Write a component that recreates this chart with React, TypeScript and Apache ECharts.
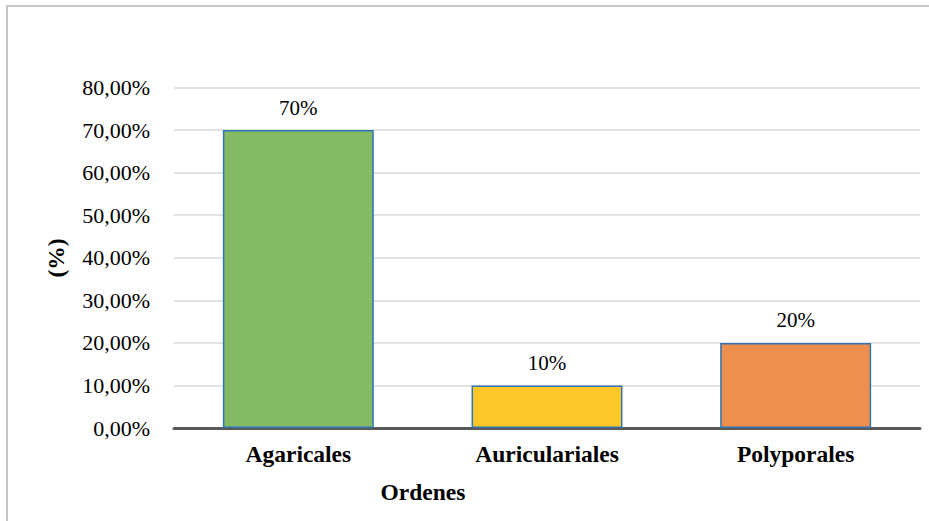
import React, { useEffect, useRef } from "react";
import * as echarts from "echarts";

// Orders of fungi and their share (%)
const categories = ["Agaricales", "Auriculariales", "Polyporales"];
const shares = [70, 10, 20];
const barColors = ["#85BA64", "#FFC829", "#EE8E4F"];
const yTicks = { min: 0, max: 80, interval: 10 };

const SERIF = '"Liberation Serif", "Times New Roman", serif';

export default function App() {
  const ref = useRef<HTMLDivElement>(null);

  useEffect(() => {
    if (!ref.current) return;
    const chart = echarts.init(ref.current, undefined, { renderer: "svg" });
    chart.setOption({
      animation: false,
      backgroundColor: "#FFFFFF",
      textStyle: { fontFamily: SERIF },
      grid: { left: 174, right: 9, top: 87.5, bottom: 93, containLabel: false },
      xAxis: {
        type: "category",
        data: categories,
        axisLine: { show: true, lineStyle: { color: "#595959", width: 3 } },
        axisTick: { show: false },
        axisLabel: {
          color: "#000000",
          fontFamily: SERIF,
          fontSize: 23.5,
          fontWeight: "bold",
          margin: 14,
        },
      },
      yAxis: {
        type: "value",
        min: yTicks.min,
        max: yTicks.max,
        interval: yTicks.interval,
        axisLine: { show: false },
        axisTick: { show: false },
        splitLine: { show: true, lineStyle: { color: "#D9D9D9", width: 1.5 } },
        axisLabel: {
          color: "#000000",
          fontFamily: SERIF,
          fontSize: 22,
          margin: 24,
          formatter: (v: number) => v.toFixed(2).replace(".", ",") + "%",
        },
      },
      series: [
        {
          type: "bar",
          barWidth: "60.7%",
          data: shares.map((v, i) => ({
            value: v,
            itemStyle: { color: barColors[i] },
          })),
          itemStyle: { borderColor: "#2F75B5", borderWidth: 1.5 },
          label: {
            show: true,
            position: "top",
            distance: 12,
            color: "#000000",
            fontFamily: SERIF,
            fontSize: 21,
            formatter: (p: any) => p.value + "%",
          },
        },
      ],
      graphic: [
        {
          type: "polyline",
          shape: { points: [[7, 530], [7, 6], [940, 6]] },
          style: { stroke: "#C6C6C6", lineWidth: 2, fill: null },
          silent: true,
        },
        {
          type: "text",
          x: 56,
          y: 258,
          rotation: Math.PI / 2,
          style: {
            text: "(%)",
            fontFamily: SERIF,
            fontSize: 23.5,
            fontWeight: "bold",
            fill: "#000000",
            align: "center",
            verticalAlign: "middle",
          },
        },
        {
          type: "text",
          x: 423,
          y: 492,
          style: {
            text: "Ordenes",
            fontFamily: SERIF,
            fontSize: 23.5,
            fontWeight: "bold",
            fill: "#000000",
            align: "center",
            verticalAlign: "middle",
          },
        },
      ],
    });
    return () => chart.dispose();
  }, []);

  return (
    <div
      ref={ref}
      style={{ position: "fixed", left: 0, top: 0, width: 929, height: 521 }}
    />
  );
}
